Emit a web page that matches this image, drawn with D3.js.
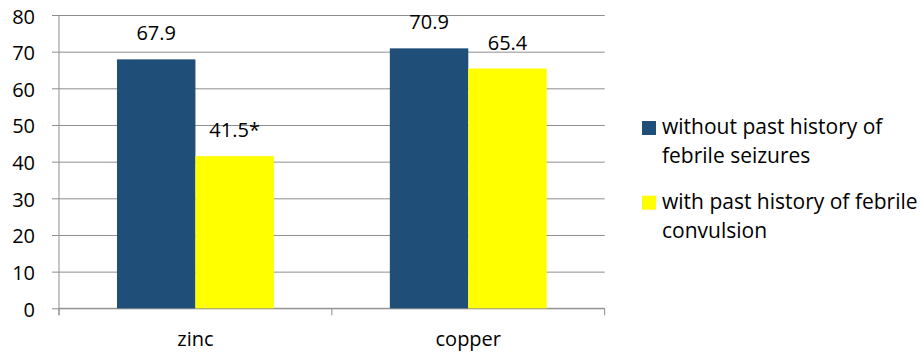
<!DOCTYPE html>
<html>
<head>
<meta charset="utf-8">
<script src="https://cdn.jsdelivr.net/npm/d3@7"></script>
<style>
  html, body { margin: 0; padding: 0; background: #fff; }
  svg { display: block; font-family: "Open Sans", sans-serif; }
</style>
</head>
<body>
<svg id="chart" width="922" height="353"></svg>
<script>
// Mean serum levels by element, grouped by febrile history
const categories = ["zinc", "copper"];
const seriesNames = [
  "without past history of febrile seizures",
  "with past history of febrile convulsion"
];
const withoutHistory = [67.9, 70.9];
const withHistory = [41.5, 65.4];
const valueLabels = [["67.9", "41.5*"], ["70.9", "65.4"]];
const yTicks = [0, 10, 20, 30, 40, 50, 60, 70, 80];
const legendLines = [
  ["without past history of", "febrile seizures"],
  ["with past history of febrile", "convulsion"]
];
const colors = ["#1f4e79", "#ffff00"];

const svg = d3.select("#chart");
const margin = { left: 59, right: 922 - 604.7, top: 15, bottom: 353 - 308.3 };
const plotW = 922 - margin.left - margin.right;
const plotH = 353 - margin.top - margin.bottom;

const g = svg.append("g").attr("transform", `translate(${margin.left},${margin.top})`);

const x = d3.scaleBand().domain(categories).range([0, plotW]).paddingInner(0.425).paddingOuter(0.2125);
const x1 = d3.scaleBand().domain([0, 1]).range([0, x.bandwidth()]);
const y = d3.scaleLinear().domain([0, 80]).range([plotH, 0]);

const gridColor = "#8e8e8e";

// horizontal gridlines with left ticks
const yAxis = d3.axisLeft(y).tickValues(yTicks).tickSize(-plotW).tickSizeOuter(0).tickPadding(24);
const ya = g.append("g").call(yAxis);
ya.select(".domain").remove();
ya.selectAll(".tick line").attr("stroke", gridColor).attr("x1", -7).attr("stroke-width", 1);
ya.selectAll(".tick text")
  .attr("fill", "#000").attr("font-size", 20).attr("font-family", "Open Sans, sans-serif")
  .attr("dy", "0.4em");

// y axis line
g.append("line").attr("x1", 0).attr("x2", 0).attr("y1", 0).attr("y2", plotH + 7)
  .attr("stroke", gridColor);

// x axis: baseline and category separators
g.append("line").attr("x1", 0).attr("x2", plotW).attr("y1", plotH).attr("y2", plotH)
  .attr("stroke", gridColor);
const sepPositions = [0, x.step(), plotW];
g.selectAll(".sep").data(sepPositions).join("line")
  .attr("x1", d => d).attr("x2", d => d)
  .attr("y1", plotH).attr("y2", plotH + 7)
  .attr("stroke", gridColor);

// category labels
g.selectAll(".cat").data(categories).join("text")
  .attr("x", d => x(d) + x.bandwidth() / 2)
  .attr("y", plotH + 38)
  .attr("text-anchor", "middle")
  .attr("font-size", 20)
  .attr("fill", "#000")
  .text(d => d);

// bars
const rows = categories.map((c, i) => ({ cat: c, vals: [withoutHistory[i], withHistory[i]], labels: valueLabels[i] }));
const grp = g.selectAll(".grp").data(rows).join("g")
  .attr("transform", d => `translate(${x(d.cat)},0)`);

grp.selectAll("rect").data(d => d.vals.map((v, k) => ({ v, k }))).join("rect")
  .attr("x", d => x1(d.k))
  .attr("width", x1.bandwidth())
  .attr("y", d => y(d.v))
  .attr("height", d => plotH - y(d.v))
  .attr("fill", d => colors[d.k]);

grp.selectAll("text.val").data(d => d.vals.map((v, k) => ({ v, k, t: d.labels[k] }))).join("text")
  .attr("class", "val")
  .attr("x", d => x1(d.k) + x1.bandwidth() / 2)
  .attr("y", d => y(d.v) - 19)
  .attr("text-anchor", "middle")
  .attr("font-size", 20)
  .attr("fill", "#000")
  .text(d => d.t);

// legend
const legend = svg.append("g").attr("transform", "translate(642,121)");
const entry = legend.selectAll(".entry").data(seriesNames).join("g")
  .attr("transform", (d, i) => `translate(0,${i * 74.7})`);
entry.append("rect").attr("width", 14).attr("height", 14).attr("fill", (d, i) => colors[i]);
entry.each(function (d, i) {
  const t = d3.select(this).append("text")
    .attr("x", 20).attr("y", 13.3)
    .attr("font-size", 21).attr("fill", "#000");
  legendLines[i].forEach((line, j) => {
    t.append("tspan").attr("x", 20).attr("dy", j === 0 ? 0 : 29).text(line);
  });
});
</script>
</body>
</html>
